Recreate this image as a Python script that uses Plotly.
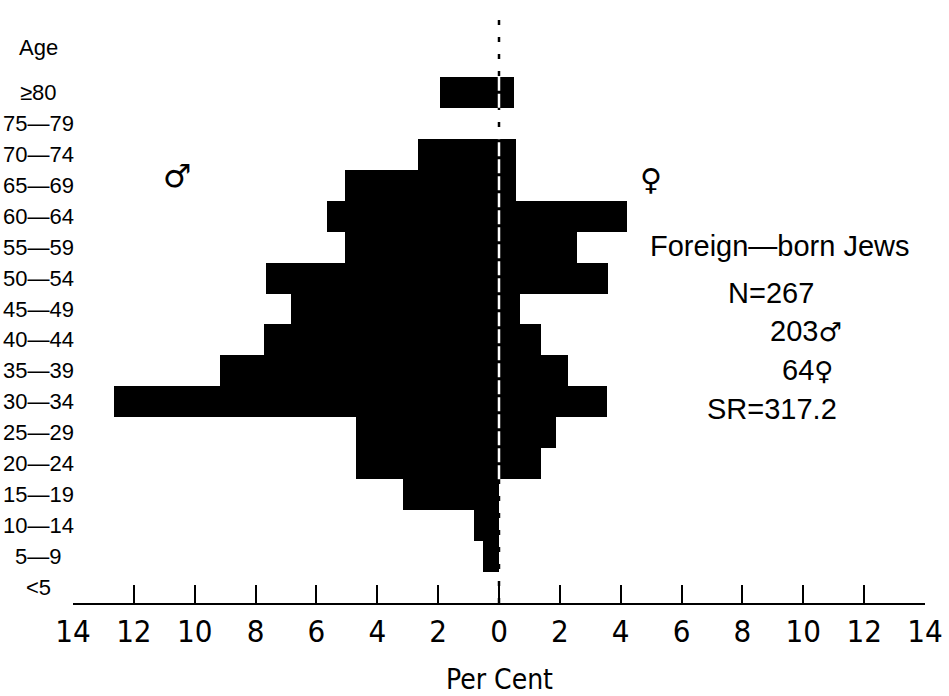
import plotly.graph_objects as go

age_groups = ["<5", "5—9", "10—14", "15—19", "20—24", "25—29", "30—34", "35—39",
              "40—44", "45—49", "50—54", "55—59", "60—64", "65—69", "70—74", "75—79", "≥80"]
male_pct = [0, 0.53, 0.82, 3.15, 4.70, 4.70, 12.65, 9.17, 7.72, 6.84, 7.66, 5.06, 5.65, 5.06, 2.66, 0, 1.94]
female_pct = [0, 0, 0, 0, 1.38, 1.87, 3.55, 2.27, 1.38, 0.69, 3.58, 2.56, 4.20, 0.56, 0.56, 0, 0.49]
tick_vals = list(range(-14, 15, 2))
tick_text = [str(abs(v)) for v in tick_vals]
SYM = "<span style='font-family:DejaVu Sans;font-size:26px'>%s</span>"
info_lines = ["Foreign—born Jews", "N=267", "203" + SYM % "♂", "64" + SYM % "♀", "SR=317.2"]

rows = list(range(len(age_groups)))
NARROW = "Liberation Sans Narrow, DejaVu Sans Condensed, Liberation Sans, sans-serif"
REG = "Liberation Sans, Arial, sans-serif"

fig = go.Figure()
fig.add_trace(go.Bar(y=rows, x=[-v for v in male_pct], orientation="h", width=1,
                     marker=dict(color="black", line=dict(width=0)), showlegend=False))
fig.add_trace(go.Bar(y=rows, x=female_pct, orientation="h", width=1,
                     marker=dict(color="black", line=dict(width=0)), showlegend=False))

# black dashed zero line over full height
fig.add_trace(go.Scatter(x=[0, 0], y=[-0.5, 18.4], mode="lines",
                         line=dict(color="black", width=2.5, dash="5px,12px"),
                         showlegend=False, hoverinfo="skip"))
# white dashed segments where bars straddle zero
wx, wy = [], []
i = 0
n = len(rows)
while i < n:
    if male_pct[i] > 0 and female_pct[i] > 0:
        j = i
        while j + 1 < n and male_pct[j + 1] > 0 and female_pct[j + 1] > 0:
            j += 1
        wx += [0, 0, None]
        wy += [i - 0.5, j + 0.5, None]
        i = j + 1
    else:
        i += 1
fig.add_trace(go.Scatter(x=wx, y=wy, mode="lines",
                         line=dict(color="white", width=2.5, dash="14px,3px"),
                         showlegend=False, hoverinfo="skip"))

annotations = []
for r, lab in zip(rows, age_groups):
    annotations.append(dict(x=-0.041, xref="paper", y=r, yref="y", text=lab, showarrow=False,
                            xanchor="center", yanchor="middle",
                            font=dict(family=REG, size=22, color="black")))
annotations.append(dict(x=-0.041, xref="paper", y=0.944, yref="paper", text="Age", showarrow=False,
                        xanchor="center", yanchor="middle", font=dict(family=REG, size=22, color="black")))
annotations.append(dict(x=-10.55, y=0.762, xref="x", yref="paper", text="♂", showarrow=False,
                        font=dict(family="DejaVu Sans", size=32, color="black")))
annotations.append(dict(x=5.0, y=0.753, xref="x", yref="paper", text="♀", showarrow=False,
                        font=dict(family="DejaVu Sans", size=30, color="black")))
info_pos = [(9.23, 0.607), (8.94, 0.527), (10.09, 0.463), (10.15, 0.396), (8.97, 0.330)]
for (px, py), t in zip(info_pos, info_lines):
    annotations.append(dict(x=px, y=py, xref="x", yref="paper", text=t, showarrow=False,
                            xanchor="center", yanchor="middle",
                            font=dict(family=REG, size=29, color="black")))
annotations.append(dict(x=0.5, y=-0.130, xref="paper", yref="paper", text="Per Cent", showarrow=False,
                        xanchor="center", yanchor="middle", font=dict(family=NARROW, size=28, color="black")))

fig.update_layout(
    width=949, height=696,
    margin=dict(l=73, r=24, t=15, b=93),
    paper_bgcolor="white", plot_bgcolor="white",
    barmode="overlay", bargap=0,
    annotations=annotations,
    xaxis=dict(range=[-14, 14], tickvals=tick_vals, ticktext=tick_text,
               ticks="inside", ticklen=18, tickwidth=2, tickcolor="black",
               showline=True, linewidth=2, linecolor="black",
               showgrid=False, zeroline=False, automargin=False,
               tickfont=dict(family=NARROW, size=31, color="black")),
    yaxis=dict(range=[-0.5, 18.5], showticklabels=False, ticks="", showline=False,
               showgrid=False, zeroline=False, automargin=False),
)

fig.write_html("out.html", config={"displayModeBar": False},
               post_script="document.body.style.margin='0';document.body.style.overflow='hidden';")
